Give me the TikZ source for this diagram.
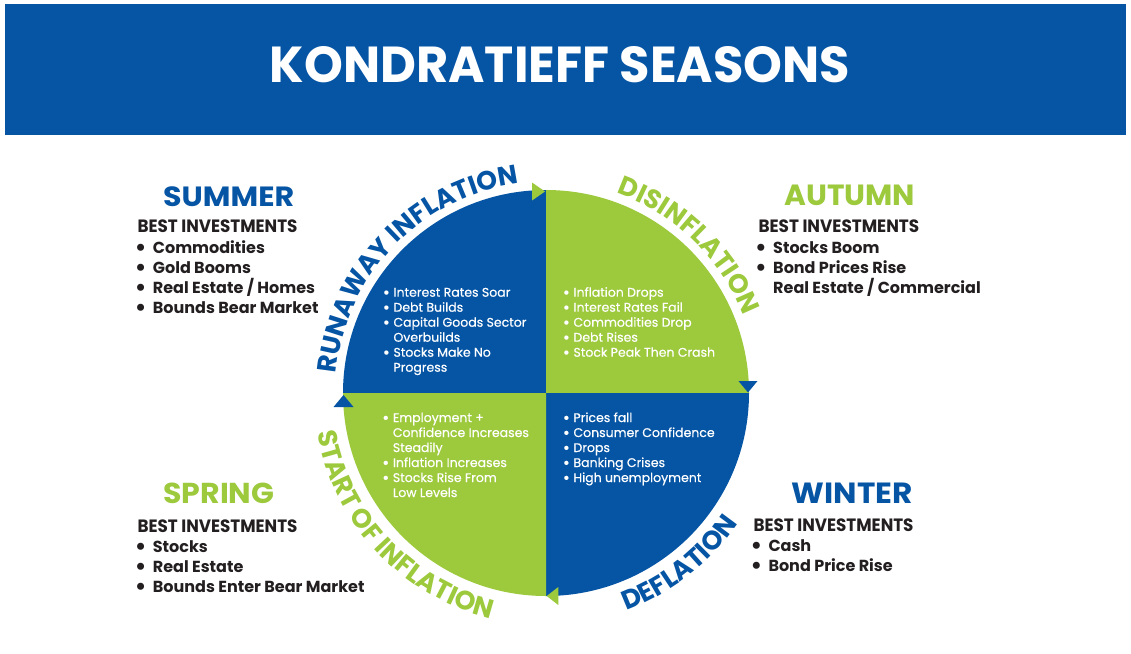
\documentclass[tikz,border=0pt]{standalone}
\usepackage{fontspec}
\setmainfont{Poppins}
\newfontfamily\qfont{Poppins}[FakeBold=0.5]
\usepackage{graphicx}
\usetikzlibrary{decorations.text}
\definecolor{kblue}{HTML}{0655A5}
\definecolor{kgreen}{HTML}{9DC93C}
\definecolor{ktext}{HTML}{231F20}
\newcommand{\arcfont}{\fontsize{26.5}{26}\selectfont\bfseries}
\newcommand{\qb}{\makebox[10.6pt][l]{\raisebox{-1.5pt}{\scalebox{1.35}{\textbullet}}}}
\newcommand{\qc}{\hspace*{10.6pt}}
\newcommand{\sbul}{\makebox[14.5pt][l]{\hspace*{-3.5pt}\raisebox{-2.6pt}{\scalebox{1.45}{\textbullet}}}}
\newcommand{\snob}{\hspace*{14.5pt}}
\begin{document}
\begin{tikzpicture}[x=1pt,y=1pt,
  qtext/.style={font=\qfont\fontsize{12.5}{15}\selectfont, text=white, inner sep=0pt, anchor=base west},
  stext/.style={font=\fontsize{16}{20}\selectfont\bfseries, text=ktext, inner sep=0pt, anchor=base west},
  head/.style={font=\bfseries, inner sep=0pt, anchor=center},
  best/.style={font=\bfseries, text=ktext, inner sep=0pt, anchor=base west},
  arctext/.style={decorate, decoration={text along path, text={|\arcfont|#1}, text align=center}}]
\useasboundingbox (0,0) rectangle (1131,-653);
\fill[white] (0,0) rectangle (1131,-653);
% banner
\node[fill=kblue, minimum width=1121pt, minimum height=131pt, inner sep=0pt, anchor=north west] (banner) at (5,-4) {};
\node[head, text=white] (title) at (560,-64.7) {\resizebox{580pt}{36pt}{KONDRATIEFF SEASONS}};
% circle
\coordinate (c) at (546,-393);
\def\R{203}
\fill[kblue] (c) -- ++(180:\R) arc(180:90:\R) -- cycle;
\fill[kgreen] (c) -- ++(90:\R) arc(90:0:\R) -- cycle;
\fill[kblue] (c) -- ++(0:\R) arc(0:-90:\R) -- cycle;
\fill[kgreen] (c) -- ++(-90:\R) arc(-90:-180:\R) -- cycle;
% arrow heads
\fill[kgreen] (532,-182.5) -- (532,-200.5) -- (545,-191.5) -- cycle;
\fill[kblue] (738.5,-381) -- (757.5,-381) -- (748,-392.5) -- cycle;
\fill[kgreen] (558.3,-587) -- (558.3,-605) -- (546.7,-596) -- cycle;
\fill[kblue] (333.5,-407) -- (353.5,-407) -- (343.5,-395) -- cycle;
% curved labels
\path[arctext={RUNAWAY INFLATION}, decoration={text color=kblue}] ([shift={(191:211)}]c) arc(191:81:211);
\path[arctext={DISINFLATION}, decoration={text color=kgreen}] ([shift={(100:212)}]c) arc(100:-8:212);
\path[arctext={START OF INFLATION}, decoration={text color=kgreen}] ([shift={(168:232)}]c) arc(168:278:232);
\path[arctext={DEFLATION}, decoration={text color=kblue}] ([shift={(262:232)}]c) arc(262:354:232);
% quadrant texts
\foreach \t [count=\i] in {\qb Interest Rates Soar, \qb Debt Builds, \qb Capital Goods Sector, \qc Overbuilds, \qb Stocks Make No, \qc Progress}
  \node[qtext] (tl\i) at (382.7,{-296.7-15*(\i-1)}) {\t};
\foreach \t [count=\i] in {\qb Inflation Drops, \qb Interest Rates Fail, \qb Commodities Drop, \qb Debt Rises, \qb Stock Peak Then Crash}
  \node[qtext] (tr\i) at (562.7,{-296.7-15*(\i-1)}) {\t};
\foreach \t [count=\i] in {\qb Employment +, \qc Confidence Increases, \qc Steadily, \qb Inflation Increases, \qb Stocks Rise From, \qc Low Levels}
  \node[qtext] (bl\i) at (382.1,{-422-15*(\i-1)}) {\t};
\foreach \t [count=\i] in {\qb Prices fall, \qb Consumer Confidence, \qb Drops, \qb Banking Crises, \qb High unemployment}
  \node[qtext] (br\i) at (562.7,{-422-15*(\i-1)}) {\t};
% SUMMER
\node[head, text=kblue] (summer) at (228.7,-196.5) {\resizebox{131pt}{19.8pt}{SUMMER}};
\node[best] (sbest) at (137.3,-232.7) {\resizebox{160pt}{12.7pt}{BEST INVESTMENTS}};
\foreach \t [count=\i] in {Commodities, Gold Booms, Real Estate / Homes, Bounds Bear Market}
  \node[stext] (su\i) at (138.2,{-253-20*(\i-1)}) {\sbul\t};
% AUTUMN
\node[head, text=kgreen] (autumn) at (849.7,-195.7) {\resizebox{130.7pt}{20.5pt}{AUTUMN}};
\node[best] (abest) at (758.3,-232.7) {\resizebox{160.7pt}{12.7pt}{BEST INVESTMENTS}};
\node[stext] (au1) at (758.5,-253) {\sbul Stocks Boom};
\node[stext] (au2) at (758.5,-273) {\sbul Bond Prices Rise};
\node[stext] (au3) at (758.5,-293) {\snob Real Estate / Commercial};
% SPRING
\node[head, text=kgreen] (spring) at (218.8,-493.5) {\resizebox{111pt}{20.5pt}{SPRING}};
\node[best] (pbest) at (137.3,-532.3) {\resizebox{160pt}{12.7pt}{BEST INVESTMENTS}};
\foreach \t [count=\i] in {Stocks, Real Estate, Bounds Enter Bear Market}
  \node[stext] (sp\i) at (138.2,{-552-20*(\i-1)}) {\sbul\t};
% WINTER
\node[head, text=kblue] (winter) at (852.2,-493.3) {\resizebox{121pt}{20.5pt}{WINTER}};
\node[best] (wbest) at (753.3,-531) {\resizebox{160pt}{12.7pt}{BEST INVESTMENTS}};
\node[stext] (wi1) at (753.8,-551) {\sbul Cash};
\node[stext] (wi2) at (753.8,-571) {\sbul Bond Price Rise};
\end{tikzpicture}
\end{document}
